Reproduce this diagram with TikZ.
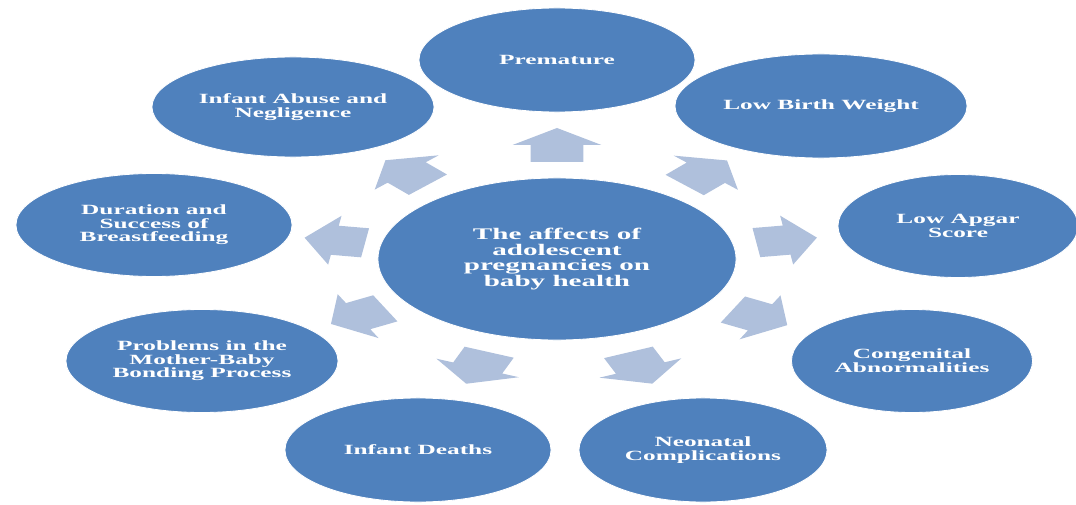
\documentclass[tikz,border=0pt]{standalone}
\usepackage{fontspec}
\usepackage{tikz}
\usetikzlibrary{shapes.geometric, calc}
\newfontfamily\bubblefont[FakeStretch=1.8]{Liberation Serif}
\definecolor{colorBubble}{HTML}{4F81BD}
\definecolor{colorArrow}{HTML}{AFC0DC}

\begin{document}
\begin{tikzpicture}[x=0.025cm, y=-0.025cm,
        bubble/.style={ellipse, fill=colorBubble, draw=white, line width=0.6pt, inner sep=0pt,
            text=white, align=center, font=\bubblefont\bfseries\fontsize{10}{9.7}\selectfont},
        hub/.style={bubble, minimum width=8.95cm, minimum height=4.05cm,
            font=\bubblefont\bfseries\fontsize{11.5}{11}\selectfont}]
    \useasboundingbox (0,0) rectangle (1076,505);
    \node[hub] (hub) at (557,259) {The affects of\\adolescent\\pregnancies on\\baby health};
    \node[bubble, minimum width=6.9cm, minimum height=2.6cm] (premature) at (557,60) {Premature};
    \node[bubble, minimum width=7.3cm, minimum height=2.6cm] (lbw) at (821,106) {Low Birth Weight};
    \node[bubble, minimum width=6cm, minimum height=2.575cm] (apgar) at (958,226) {Low Apgar\\Score};
    \node[bubble, minimum width=6.025cm, minimum height=2.575cm] (congenital) at (912,361) {Congenital\\Abnormalities};
    \node[bubble, minimum width=6.2cm, minimum height=2.6cm] (neonatal) at (703,450) {Neonatal\\Complications};
    \node[bubble, minimum width=6.65cm, minimum height=2.6cm] (deaths) at (418,450) {Infant Deaths};
    \node[bubble, minimum width=6.8cm, minimum height=2.575cm] (problems) at (202,361) {Problems in the\\Mother-Baby\\Bonding Process};
    \node[bubble, minimum width=6.9cm, minimum height=2.575cm] (duration) at (154,225) {Duration and\\Success of\\Breastfeeding};
    \node[bubble, minimum width=7.05cm, minimum height=2.5cm] (abuse) at (293,107) {Infant Abuse and\\Negligence};
    % block arrows, drawn unstretched and then widened like the bubbles
    \foreach \t in {premature, lbw, apgar, congenital, neonatal, deaths, problems, duration, abuse} {
        \path (hub) -- (\t) coordinate[pos=0.5] (m-\t);
        \path let \p1 = ($(\t.center)-(hub.center)$), \n1 = {atan2(\y1, \x1/1.8)} in \pgfextra{\xdef\ang{\n1}};
        \fill[colorArrow, shift={(m-\t)}, xscale=1.8, rotate=\ang]
            (-17,-14.7) -- (0,-14.7) -- (0,-24.7) -- (17,0) -- (0,24.7) -- (0,14.7) -- (-17,14.7) -- cycle;
    }
\end{tikzpicture}
\end{document}
